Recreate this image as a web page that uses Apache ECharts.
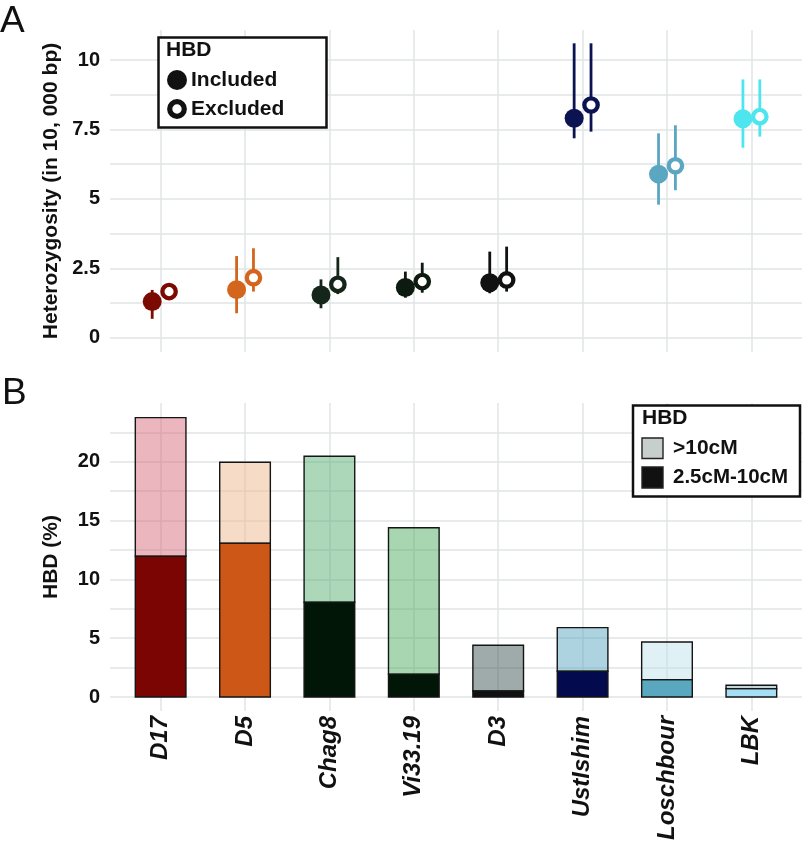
<!DOCTYPE html>
<html>
<head>
<meta charset="utf-8">
<title>Heterozygosity and HBD</title>
<script src="https://cdn.jsdelivr.net/npm/echarts@6/dist/echarts.min.js"></script>
<style>
    html, body { margin: 0; padding: 0; background: #fff; }
    #chart { width: 802px; height: 843px; }
</style>
</head>
<body>
<div id="chart"></div>
<script>
// samples, left to right
var samples = ['D17', 'D5', 'Chag8', 'Vi33.19', 'D3', 'UstIshim', 'Loschbour', 'LBK'];

// panel A: heterozygosity per 10,000 bp, with interval
var inclMean = [1.30, 1.73, 1.54, 1.81, 1.98, 7.90, 5.89, 7.88];
var inclLow  = [0.68, 0.88, 1.06, 1.44, 1.60, 7.18, 4.79, 6.84];
var inclHigh = [1.72, 2.94, 2.10, 2.38, 3.10, 10.60, 7.36, 9.30];
var exclMean = [1.66, 2.16, 1.92, 2.02, 2.08, 8.38, 6.19, 7.96];
var exclLow  = [1.50, 1.66, 1.57, 1.62, 1.66, 7.42, 5.31, 7.24];
var exclHigh = [1.88, 3.22, 2.90, 2.70, 3.28, 10.60, 7.65, 9.30];
var ticksA = [0, 2.5, 5, 7.5, 10];

// panel B: HBD (%) by segment length
var hbdShort = [11.97, 13.08, 8.06, 1.93, 0.51, 2.19, 1.48, 0.71];  // 2.5cM-10cM
var hbdLong  = [11.78, 6.87, 12.40, 12.45, 3.89, 3.71, 3.20, 0.29]; // >10cM
var ticksB = [0, 5, 10, 15, 20];

// colours
var pointColors = ['#7b0a03', '#d4651c', '#14261a', '#0c1a10', '#111111', '#0b1350', '#5ba6c1', '#4ee6ee'];
var darkColors  = ['#7b0502', '#cc5716', '#021607', '#021607', '#111111', '#030b4e', '#5aa8c0', '#a5dff5'];
var lightColors = ['rgba(215,109,125,0.5)', 'rgba(237,185,141,0.5)', 'rgba(89,175,115,0.5)', 'rgba(81,173,97,0.5)',
                   'rgba(63,85,85,0.5)', 'rgba(89,167,191,0.5)', 'rgba(191,227,235,0.5)', 'rgba(139,171,181,0.5)'];

var FONT = 'Liberation Sans, Arial, Helvetica, sans-serif';
var gridColor = '#dfe4e4';
var dodge = 0.1;
var barHalf = 0.3;

var catTicks = samples.map(function (s, i) { return i + 1; });
function steps(from, to, step) {
    var out = [];
    for (var v = from; v <= to + 1e-9; v += step) out.push(+v.toFixed(3));
    return out;
}

var chart = echarts.init(document.getElementById('chart'));

function xAxisFor(gridIndex, showLabels) {
    return {
        type: 'value', gridIndex: gridIndex, min: 0.4, max: 8.6,
        axisLine: { show: false },
        axisTick: { show: false, customValues: catTicks },
        axisLabel: {
            show: showLabels, customValues: catTicks, rotate: 90, margin: 5,
            fontFamily: FONT, fontSize: 24, fontWeight: 'bold', fontStyle: 'italic', color: '#111',
            formatter: function (v) { return samples[Math.round(v) - 1] || ''; }
        },
        splitLine: { show: true, lineStyle: { color: gridColor, width: 1.5 } }
    };
}

function yAxisFor(gridIndex, name, min, max, labels, lines) {
    return {
        type: 'value', gridIndex: gridIndex, min: min, max: max,
        name: name, nameLocation: 'middle', nameRotate: 90, nameGap: 48,
        nameTextStyle: { fontFamily: FONT, fontSize: 21, fontWeight: 'bold', color: '#111' },
        axisLine: { show: false },
        axisTick: { show: false, customValues: lines },
        axisLabel: {
            customValues: labels, margin: 10,
            fontFamily: FONT, fontSize: 20, fontWeight: 'bold', color: '#111'
        },
        splitLine: { show: true, lineStyle: { color: gridColor, width: 1.5 } }
    };
}

function errorBars(name, shift, lo, hi) {
    return {
        type: 'custom', name: name, xAxisIndex: 0, yAxisIndex: 0, z: 1,
        data: samples.map(function (s, i) { return [i + 1 + shift, lo[i], hi[i]]; }),
        encode: { x: 0, y: [1, 2] },
        renderItem: function (params, api) {
            var a = api.coord([api.value(0), api.value(1)]);
            var b = api.coord([api.value(0), api.value(2)]);
            return {
                type: 'line',
                shape: { x1: a[0], y1: a[1], x2: b[0], y2: b[1] },
                style: { stroke: pointColors[params.dataIndex], lineWidth: 2.8 }
            };
        }
    };
}

// stacked bar segment: from base[i] up to base[i] + values[i]
function hbdBars(name, base, values, colors) {
    return {
        type: 'custom', name: name, xAxisIndex: 1, yAxisIndex: 1, z: 2,
        data: samples.map(function (s, i) {
            var b = base ? base[i] : 0;
            return [i + 1, b, b + values[i]];
        }),
        encode: { x: 0, y: [1, 2] },
        renderItem: function (params, api) {
            var x = api.value(0);
            var p0 = api.coord([x - barHalf, api.value(2)]);
            var p1 = api.coord([x + barHalf, api.value(1)]);
            return {
                type: 'rect',
                shape: { x: p0[0], y: p0[1], width: p1[0] - p0[0], height: p1[1] - p0[1] },
                style: { fill: colors[params.dataIndex], stroke: '#151515', lineWidth: 1.4 }
            };
        }
    };
}

var option = {
    animation: false,
    backgroundColor: '#fff',
    grid: [
        { left: 110, top: 30, width: 692, height: 322, outerBoundsMode: 'none' },
        { left: 110, top: 403, width: 692, height: 308, outerBoundsMode: 'none' }
    ],
    xAxis: [xAxisFor(0, false), xAxisFor(1, true)],
    yAxis: [
        yAxisFor(0, 'Heterozygosity (in 10, 000 bp)', -0.515, 11.08, ticksA, steps(0, 10, 1.25)),
        yAxisFor(1, 'HBD (%)', -1.19, 24.99, ticksB, steps(0, 22.5, 2.5))
    ],
    series: [
        errorBars('Included range', -dodge, inclLow, inclHigh),
        errorBars('Excluded range', dodge, exclLow, exclHigh),
        {
            type: 'scatter', name: 'Included', xAxisIndex: 0, yAxisIndex: 0, z: 3,
            symbol: 'circle', symbolSize: 19,
            data: samples.map(function (s, i) {
                return { value: [i + 1 - dodge, inclMean[i]], itemStyle: { color: pointColors[i], opacity: 1 } };
            })
        },
        {
            type: 'scatter', name: 'Excluded', xAxisIndex: 0, yAxisIndex: 0, z: 3,
            symbol: 'circle', symbolSize: 13.4,
            data: samples.map(function (s, i) {
                return {
                    value: [i + 1 + dodge, exclMean[i]],
                    itemStyle: { color: '#fff', borderColor: pointColors[i], borderWidth: 4.3, opacity: 1 }
                };
            })
        },
        hbdBars('2.5cM-10cM', null, hbdShort, darkColors),
        hbdBars('>10cM', hbdShort, hbdLong, lightColors)
    ],
    graphic: [
        // panel letters
        { type: 'text', left: 0, top: 3, style: { text: 'A', fontFamily: FONT, fontSize: 37, fill: '#111' } },
        { type: 'text', left: 2, top: 375, style: { text: 'B', fontFamily: FONT, fontSize: 37, fill: '#111' } },

        // legend, panel A
        { type: 'rect', shape: { x: 158.5, y: 37.5, width: 168, height: 90 }, style: { fill: '#fff', stroke: '#111', lineWidth: 2.5 }, z: 10 },
        { type: 'text', x: 166, y: 50, style: { text: 'HBD', fontFamily: FONT, fontSize: 21, fontWeight: 'bold', fill: '#111', verticalAlign: 'middle' }, z: 11 },
        { type: 'circle', shape: { cx: 177, cy: 80, r: 10 }, style: { fill: '#111' }, z: 11 },
        { type: 'text', x: 191, y: 80, style: { text: 'Included', fontFamily: FONT, fontSize: 21, fontWeight: 'bold', fill: '#111', verticalAlign: 'middle' }, z: 11 },
        { type: 'circle', shape: { cx: 177, cy: 109, r: 7.3 }, style: { fill: '#fff', stroke: '#111', lineWidth: 5.2 }, z: 11 },
        { type: 'text', x: 191, y: 109, style: { text: 'Excluded', fontFamily: FONT, fontSize: 21, fontWeight: 'bold', fill: '#111', verticalAlign: 'middle' }, z: 11 },

        // legend, panel B
        { type: 'rect', shape: { x: 633, y: 405.5, width: 167, height: 91 }, style: { fill: '#fff', stroke: '#111', lineWidth: 2.5 }, z: 10 },
        { type: 'text', x: 642, y: 418, style: { text: 'HBD', fontFamily: FONT, fontSize: 21, fontWeight: 'bold', fill: '#111', verticalAlign: 'middle' }, z: 11 },
        { type: 'rect', shape: { x: 642, y: 438, width: 21, height: 20.5 }, style: { fill: '#c7cfcc', stroke: '#222', lineWidth: 1.4 }, z: 11 },
        { type: 'text', x: 673, y: 448, style: { text: '>10cM', fontFamily: FONT, fontSize: 21, fontWeight: 'bold', fill: '#111', verticalAlign: 'middle' }, z: 11 },
        { type: 'rect', shape: { x: 642, y: 467, width: 21, height: 21 }, style: { fill: '#111', stroke: '#222', lineWidth: 1.4 }, z: 11 },
        { type: 'text', x: 673, y: 477.5, style: { text: '2.5cM-10cM', fontFamily: FONT, fontSize: 20.5, fontWeight: 'bold', fill: '#111', verticalAlign: 'middle' }, z: 11 }
    ]
};

chart.setOption(option);
</script>
</body>
</html>
